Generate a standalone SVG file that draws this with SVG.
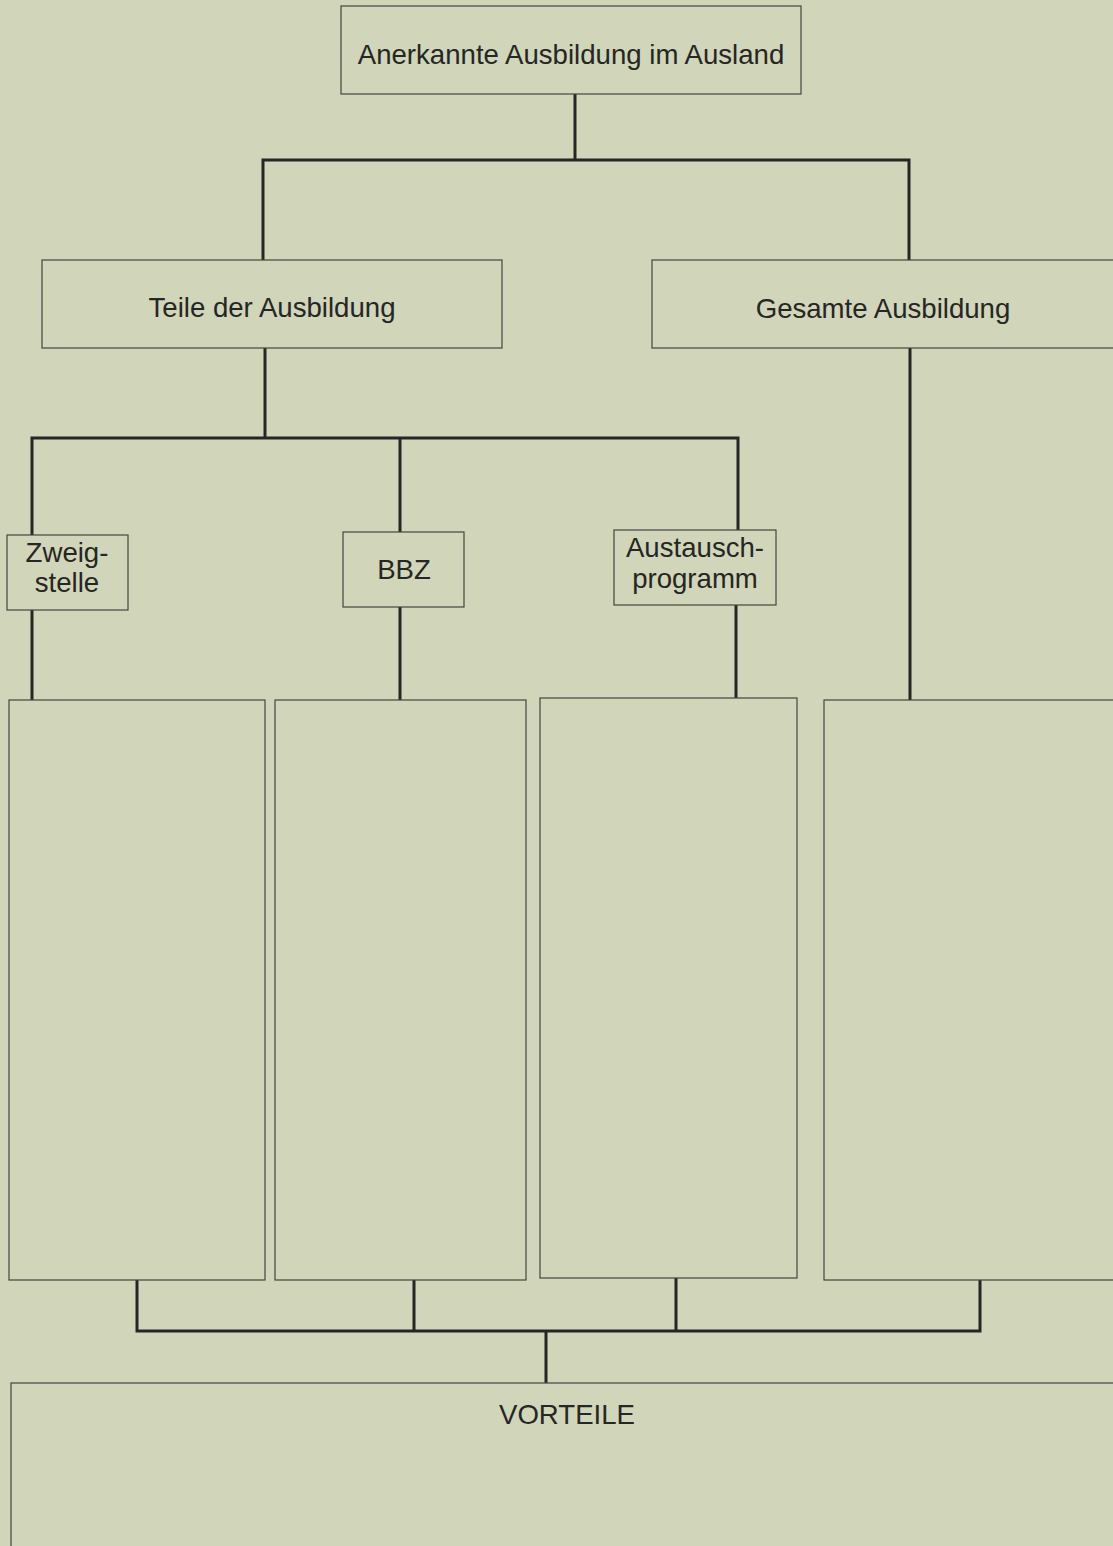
<svg xmlns="http://www.w3.org/2000/svg" width="1113" height="1546" viewBox="0 0 1113 1546">
<style>
.box{fill:#d1d5b9;stroke:#45453f;stroke-width:1.2}
.lbl{font-family:"Liberation Sans",Arial,sans-serif;font-size:27.6px;fill:#262624;text-anchor:middle}
.con{fill:none;stroke:#262624;stroke-width:3;stroke-linecap:square}
</style>
<rect width="1113" height="1546" fill="#d1d5b9"/>
<g id="connectors">
<path class="con" d="M575,95V160M263,160H909M263,160V259M909,160V259"/>
<path class="con" d="M265,349V438M32,438H738M32,438V534M400,438V531M738,438V529"/>
<path class="con" d="M32,611V699M400,608V699M736,606V697M910,349V699"/>
<path class="con" d="M137,1281V1331M414,1281V1331M676,1279V1331M980,1281V1331M137,1331H980M546,1331V1382"/>
</g>
<g id="n-top"><rect class="box" x="341" y="6" width="460" height="88"/><text class="lbl" x="571" y="64">Anerkannte Ausbildung im Ausland</text></g>
<g id="n-teile"><rect class="box" x="42" y="260" width="460" height="88"/><text class="lbl" x="272" y="317">Teile der Ausbildung</text></g>
<g id="n-gesamt"><rect class="box" x="652" y="260" width="470" height="88"/><text class="lbl" x="883" y="318">Gesamte Ausbildung</text></g>
<g id="n-zweig"><rect class="box" x="7" y="535" width="121" height="75"/><text class="lbl" x="67" y="562">Zweig-</text><text class="lbl" x="67" y="592">stelle</text></g>
<g id="n-bbz"><rect class="box" x="343" y="532" width="121" height="75"/><text class="lbl" x="404" y="579">BBZ</text></g>
<g id="n-aus"><rect class="box" x="614" y="530" width="162" height="75"/><text class="lbl" x="695" y="557">Austausch-</text><text class="lbl" x="695" y="588">programm</text></g>
<g id="n-b1"><rect class="box" x="9" y="700" width="256" height="580"/></g>
<g id="n-b2"><rect class="box" x="275" y="700" width="251" height="580"/></g>
<g id="n-b3"><rect class="box" x="540" y="698" width="257" height="580"/></g>
<g id="n-b4"><rect class="box" x="824" y="700" width="300" height="580"/></g>
<g id="n-vorteile"><rect class="box" x="11" y="1383" width="1120" height="180"/><text class="lbl" x="567" y="1424">VORTEILE</text></g>
</svg>
